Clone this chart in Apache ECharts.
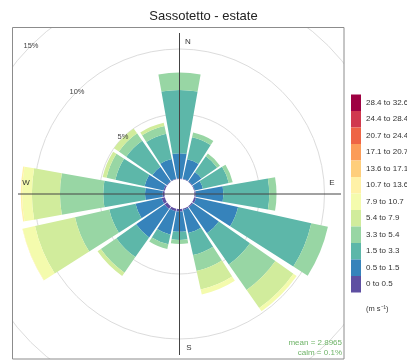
<!DOCTYPE html>
<html>
<head>
<meta charset="utf-8">
<title>Sassotetto - estate</title>
<script src="https://cdn.jsdelivr.net/npm/echarts@6/dist/echarts.min.js"></script>
<style>
  html, body { margin: 0; padding: 0; background: #fff; }
  #chart { width: 407px; height: 361px; }
</style>
</head>
<body>
<div id="chart"></div>
<script>
// Wind directions (16 sectors of 22.5 degrees), clockwise from north
const directions = ['N','NNE','NE','ENE','E','ESE','SE','SSE','S','SSW','SW','WSW','W','WNW','NW','NNW'];

// Wind speed classes (m/s), lowest first
const speedBins = ['0 to 0.5','0.5 to 1.5','1.5 to 3.3','3.3 to 5.4','5.4 to 7.9','7.9 to 10.7',
                   '10.7 to 13.6','13.6 to 17.1','17.1 to 20.7','20.7 to 24.4','24.4 to 28.4','28.4 to 32.6'];

// Frequency (%) of each speed class per direction, same order as `directions`
const freq_0_05    = [0.05,0.05,0.05,0.05,0.10,0.15,0.10,0.10,0.20,0.20,0.25,0.25,0.15,0.10,0.05,0.05];
const freq_05_15   = [1.93,1.53,0.87,0.64,2.12,3.31,2.44,1.82,1.55,1.85,2.67,2.06,1.35,1.50,1.35,1.55];
const freq_15_33   = [4.87,1.73,1.46,2.04,3.53,5.77,2.92,1.73,0.63,0.76,1.85,2.07,3.21,2.30,2.45,2.00];
const freq_33_54   = [1.34,0.38,0.27,0.31,0.56,1.31,2.39,1.27,0.31,0.37,1.46,2.70,3.33,0.70,0.69,0.60];
const freq_54_79   = [0,0,0,0,0,0,1.69,1.46,0,0,0.31,3.15,2.16,0.30,0.46,0.26];
const freq_79_107  = [0,0,0,0,0,0,0.31,0.39,0,0,0,0.97,0.75,0,0,0];
const freq_107_136 = [0,0,0,0,0,0,0,0,0,0,0,0.03,0.11,0,0,0];
const freq_136_171 = [0,0,0,0,0,0,0,0,0,0,0,0,0,0,0,0];
const freq_171_207 = [0,0,0,0,0,0,0,0,0,0,0,0,0,0,0,0];
const freq_207_244 = [0,0,0,0,0,0,0,0,0,0,0,0,0,0,0,0];
const freq_244_284 = [0,0,0,0,0,0,0,0,0,0,0,0,0,0,0,0];
const freq_284_326 = [0,0,0,0,0,0,0,0,0,0,0,0,0,0,0,0];

// Spectral ramp, one colour per speed class (low to high)
const binColors = ['#5E4FA2','#3683BB','#5DB7A9','#98D6A4','#D1EC9C','#F4FBAD',
                   '#FFF1A7','#FECE7C','#FB9C59','#EE6445','#D0394E','#9E0142'];

// Radial grid rings (%)
const ringTicks = [5, 10, 15];
const meanSpeed = '2.8965';
const calmPct = '0.1%';

const freqByBin = [freq_0_05, freq_05_15, freq_15_33, freq_33_54, freq_54_79, freq_79_107,
                   freq_107_136, freq_136_171, freq_171_207, freq_207_244, freq_244_284, freq_284_326];

// Layout
const W = 407, H = 361;
const CX = 179.5, CY = 194;          // rose centre
const R0 = 15;                       // calm circle radius
const PX_PER_PCT = 13;
const R_MAX = 20;
const BOX = { x: 12.5, y: 27.5, w: 331.5, h: 331.5 };
const FONT = 'Liberation Sans, Arial, Helvetica, sans-serif';

const chart = echarts.init(document.getElementById('chart'), null, { renderer: 'canvas' });

const series = speedBins.map((name, i) => ({
  name: name,
  type: 'bar',
  coordinateSystem: 'polar',
  stack: 'rose',
  barCategoryGap: '11%',
  silent: true,
  itemStyle: { color: binColors[i] },
  data: freqByBin[i],
  z: 2
}));

const ringColors = ['rgba(0,0,0,0)'];
for (let v = 5; v <= R_MAX; v += 5) ringColors.push('#dcdcdc');

chart.setOption({
  animation: false,
  backgroundColor: '#fff',
  title: {
    text: 'Sassotetto - estate',
    left: 'center',
    top: 5,
    z: 20,
    textStyle: { fontSize: 13, fontWeight: 'normal', color: '#222', fontFamily: FONT }
  },
  legend: {
    orient: 'vertical',
    left: 351,
    top: 94.5,
    padding: 0,
    itemWidth: 10,
    itemHeight: 16.5,
    itemGap: 0,
    icon: 'rect',
    selectedMode: false,
    z: 20,
    data: speedBins.slice().reverse(),
    textStyle: { fontSize: 8, color: '#333', fontFamily: FONT }
  },
  polar: { center: [CX, CY], radius: [R0, R0 + PX_PER_PCT * R_MAX] },
  angleAxis: {
    type: 'category',
    data: directions,
    startAngle: 90 + 360 / directions.length / 2,
    clockwise: true,
    boundaryGap: true,
    axisLine: { show: false },
    axisTick: { show: false },
    axisLabel: { show: false },
    splitLine: { show: false }
  },
  radiusAxis: {
    type: 'value',
    min: 0,
    max: R_MAX,
    interval: 5,
    axisLine: { show: false },
    axisTick: { show: false },
    axisLabel: { show: false },
    splitLine: { show: true, lineStyle: { color: ringColors, width: 1 } }
  },
  series: series
});

// Ring labels placed on the NW spoke of each ring
const nwIndex = directions.indexOf('NW');
const ringLabels = ringTicks.map(v => {
  const p = chart.convertToPixel({ polarIndex: 0 }, [v, nwIndex]);
  return {
    type: 'text', z: 12, x: p[0], y: p[1],
    style: { text: v + '%', fontSize: 7.5, fill: '#444', fontFamily: FONT,
             align: 'center', verticalAlign: 'middle' }
  };
});

const white = '#fff';
const graphics = [
  // white frame outside the panel
  { type: 'rect', z: 10, silent: true, shape: { x: 0, y: 0, width: BOX.x, height: H }, style: { fill: white } },
  { type: 'rect', z: 10, silent: true, shape: { x: 0, y: 0, width: W, height: BOX.y }, style: { fill: white } },
  { type: 'rect', z: 10, silent: true, shape: { x: BOX.x + BOX.w, y: 0, width: W, height: H }, style: { fill: white } },
  { type: 'rect', z: 10, silent: true, shape: { x: 0, y: BOX.y + BOX.h, width: W, height: H }, style: { fill: white } },
  // panel border
  { type: 'rect', z: 11, silent: true, shape: { x: BOX.x, y: BOX.y, width: BOX.w, height: BOX.h },
    style: { fill: 'none', stroke: '#8c8c8c', lineWidth: 1 } },
  // compass cross
  { type: 'line', z: 12, silent: true, shape: { x1: CX, y1: CY - 161, x2: CX, y2: CY + 161 },
    style: { stroke: '#444', lineWidth: 1 } },
  { type: 'line', z: 12, silent: true, shape: { x1: CX - 161.5, y1: CY, x2: CX + 161.5, y2: CY },
    style: { stroke: '#444', lineWidth: 1 } },
  // compass letters
  { type: 'text', z: 12, x: CX + 8.5, y: CY - 152, style: { text: 'N', fontSize: 8, fill: '#333', fontFamily: FONT, align: 'center', verticalAlign: 'middle' } },
  { type: 'text', z: 12, x: CX + 152.5, y: CY - 11, style: { text: 'E', fontSize: 8, fill: '#333', fontFamily: FONT, align: 'center', verticalAlign: 'middle' } },
  { type: 'text', z: 12, x: CX + 9.5, y: CY + 154, style: { text: 'S', fontSize: 8, fill: '#333', fontFamily: FONT, align: 'center', verticalAlign: 'middle' } },
  { type: 'text', z: 12, x: CX - 153.5, y: CY - 11, style: { text: 'W', fontSize: 8, fill: '#333', fontFamily: FONT, align: 'center', verticalAlign: 'middle' } },
  // statistics
  { type: 'text', z: 12, x: 342, y: 343, style: { text: 'mean = ' + meanSpeed, fontSize: 8, fill: '#6fb468', fontFamily: FONT, align: 'right', verticalAlign: 'middle' } },
  { type: 'text', z: 12, x: 342, y: 352.5, style: { text: 'calm = ' + calmPct, fontSize: 8, fill: '#6fb468', fontFamily: FONT, align: 'right', verticalAlign: 'middle' } },
  // legend units
  { type: 'text', z: 21, x: 366, y: 309, style: { text: '(m s\u207B\u00B9)', fontSize: 7.5, fill: '#333', fontFamily: FONT, align: 'left', verticalAlign: 'middle' } }
].concat(ringLabels);

chart.setOption({ graphic: { elements: graphics } });
</script>
</body>
</html>
